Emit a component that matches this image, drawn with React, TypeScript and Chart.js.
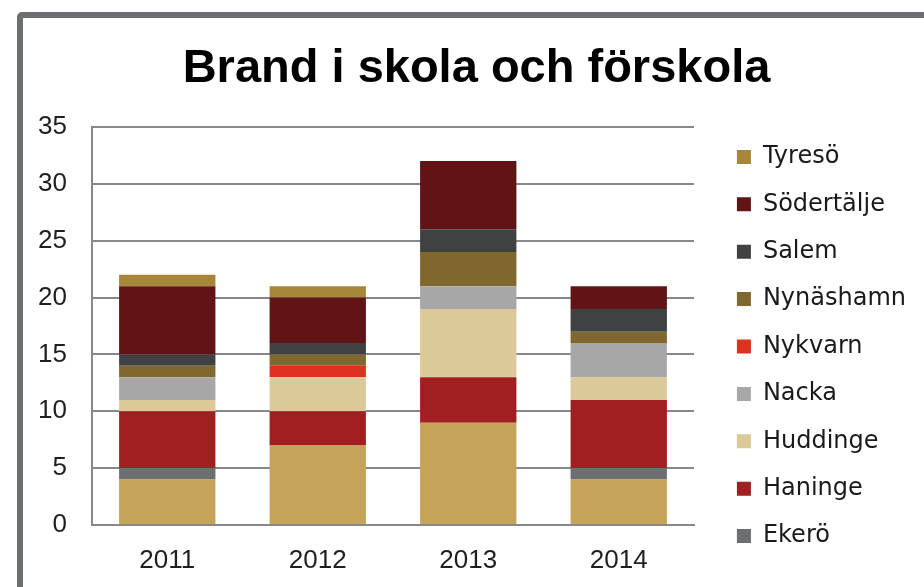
import React, { useEffect, useRef } from "react";
import { Chart, registerables } from "chart.js";

Chart.register(...registerables);

const years = ["2011", "2012", "2013", "2014"];
const seriesNames = ["Botkyrka", "Ekerö", "Haninge", "Huddinge", "Nacka", "Nykvarn", "Nynäshamn", "Salem", "Södertälje", "Tyresö"];
const botkyrka = [4, 7, 9, 4];
const ekero = [1, 0, 0, 1];
const haninge = [5, 3, 4, 6];
const huddinge = [1, 3, 6, 2];
const nacka = [2, 0, 2, 3];
const nykvarn = [0, 1, 0, 0];
const nynashamn = [1, 1, 3, 1];
const salem = [1, 1, 2, 2];
const sodertalje = [6, 4, 6, 2];
const tyreso = [1, 1, 0, 0];
const seriesValues = [botkyrka, ekero, haninge, huddinge, nacka, nykvarn, nynashamn, salem, sodertalje, tyreso];
const seriesColors = ["#C5A35B", "#6D6E72", "#A01F21", "#DCC99A", "#A7A7A8", "#DE3120", "#7F672D", "#404143", "#611415", "#A6873A"];
const yTicksMax = 35;
const yTicksStep = 5;
const titleText = "Brand i skola och förskola";

const CANVAS_W = 893;
const CANVAS_H = 657;
const PLOT_RIGHT = 671;

export default function App() {
  const ref = useRef<HTMLCanvasElement>(null);
  useEffect(() => {
    if (!ref.current) return;
    const chart = new Chart(ref.current, {
      type: "bar",
      data: {
        labels: years,
        datasets: seriesNames.map((n, i) => ({
          label: n,
          data: seriesValues[i],
          backgroundColor: seriesColors[i],
          borderWidth: 0,
          categoryPercentage: 1,
          barPercentage: 0.64,
        })),
      },
      options: {
        animation: false,
        responsive: false,
        devicePixelRatio: 1,
        layout: { padding: { left: 14, right: 0, top: 0, bottom: 0 } },
        plugins: {
          tooltip: { enabled: false },
          title: {
            display: true,
            text: titleText,
            color: "#000",
            font: { family: "'Liberation Sans', Arial, sans-serif", size: 47, weight: "bold" },
            padding: { top: 23, bottom: 29.6 },
          },
          legend: {
            display: true,
            position: "right",
            reverse: true,
            labels: {
              boxWidth: 14,
              boxHeight: 14,
              padding: 23.4,
              color: "#1a1a1a",
              font: { family: "'DejaVu Sans', sans-serif", size: 24 },
              filter: (item: any) => item.text !== "Botkyrka",
            },
          },
        },
        scales: {
          x: {
            stacked: true,
            grid: { display: false, drawTicks: false },
            border: { display: true, color: "#888", width: 2 },
            ticks: { color: "#1f1f1f", padding: 20, font: { family: "'Liberation Sans', Arial, sans-serif", size: 26 } },
            afterFit: (s: any) => { s.height = 150; },
          },
          y: {
            stacked: true,
            min: 0,
            max: yTicksMax,
            ticks: { stepSize: yTicksStep, color: "#1f1f1f", padding: 25, font: { family: "'Liberation Sans', Arial, sans-serif", size: 26 } },
            grid: { color: "#888", lineWidth: 2, drawTicks: false },
            border: { display: true, color: "#888", width: 2 },
            afterFit: (s: any) => { s.width = 55; },
          },
          gap: {
            type: "linear",
            position: "right",
            display: false,
            afterFit: (s: any) => {
              const lw = s.chart.legend ? s.chart.legend.width : 200;
              s.width = Math.max(0, CANVAS_W - lw - PLOT_RIGHT);
            },
          },
        },
      },
    });
    return () => chart.destroy();
  }, []);
  return (
    <div style={{ position: "fixed", left: 0, top: 0, width: 924, height: 587, overflow: "hidden", background: "#fff" }}>
      <div style={{ position: "absolute", left: 17, top: 12, width: 1000, height: 700, border: "6px solid #6D6E71", borderRadius: 5, background: "#fff" }}>
        <canvas ref={ref} width={CANVAS_W} height={CANVAS_H} style={{ position: "absolute", left: 0, top: 0 }} />
      </div>
    </div>
  );
}
